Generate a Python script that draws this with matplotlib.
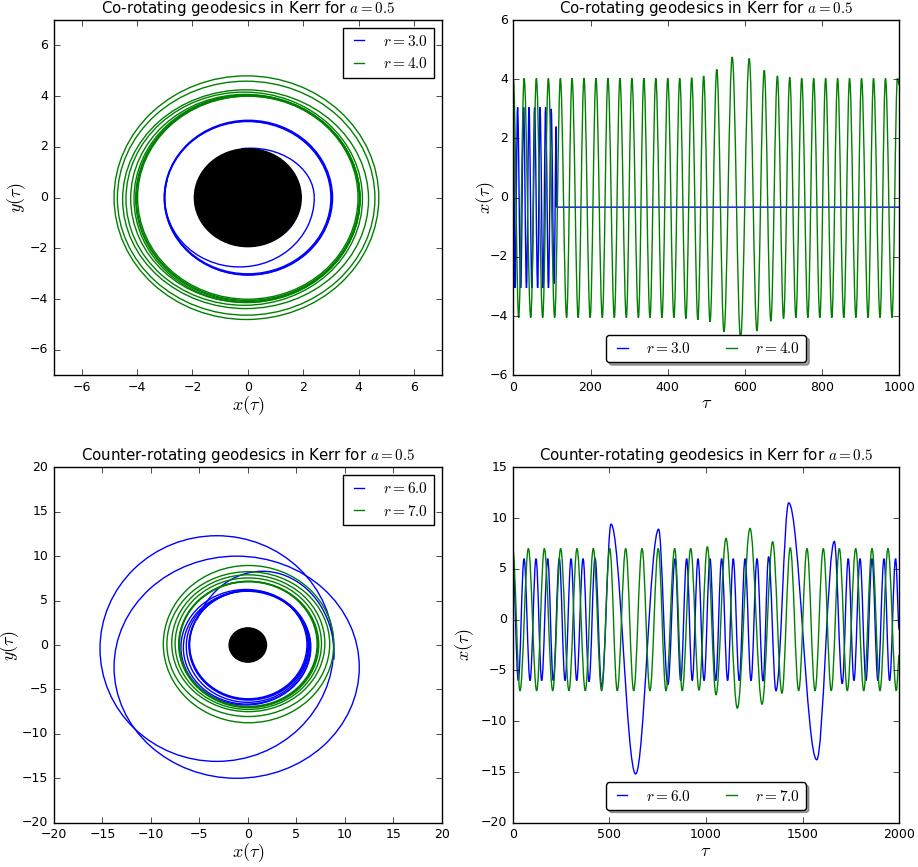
import matplotlib
matplotlib.use('Agg')
import matplotlib.pyplot as plt
from matplotlib.patches import Circle, Ellipse, Arc, PathPatch
from matplotlib.path import Path
from matplotlib.lines import Line2D

# event horizon disk radius, same in both orbit plots
horizon_r = 1.93

# ---- co-rotating, r = 3.0 : orbit loops (centre x, centre y, half width, half height)
co3_cx = [0.0, 0.01, 0.02]
co3_cy = [0.0, -0.01, 0.0]
co3_rx = [3.0, 3.02, 3.04]
co3_ry = [3.0, 3.03, 3.05]
# the last turn before the plunge (two arcs)
co3_arc_cx = [-0.3, 0.1]
co3_arc_cy = [0.0, 0.0]
co3_arc_rx = [2.7, 2.3]
co3_arc_ry = [2.73, 1.95]
co3_arc_t1 = [165, 0]
co3_arc_t2 = [360, 100]

# ---- co-rotating, r = 4.0 : orbit loops
co4_cx = [0.0, 0.0, 0.0, -0.03, -0.09, -0.13, -0.08, -0.06, -0.05]
co4_cy = [0.0, -0.02, -0.03, -0.04, -0.03, -0.04, -0.06, -0.02, 0.0]
co4_rx = [3.98, 4.02, 4.05, 4.08, 4.14, 4.27, 4.44, 4.65, 4.78]
co4_ry = [4.0, 4.03, 4.06, 4.09, 4.1, 4.2, 4.31, 4.61, 4.8]

# ---- co-rotating x(tau), turning points
co3_tau = [0, 4.4, 11, 19, 26.7, 34, 40.6, 48, 55, 63, 69, 77, 83.6, 91, 98,
           105.6, 111, 112, 1000]
co3_x = [3.0, -3.05, 3.05, -3.05, 3.05, -3.05, 3.05, -3.05, 3.05, -3.05, 3.05,
         -3.05, 3.05, -3.05, 3.0, -2.9, 2.4, -0.32, -0.32]

co4_tau = [0, 13.8, 27.9, 45, 59.6, 76, 90.7, 107, 121.8, 138, 152, 168, 183,
           199, 214, 230.5, 245, 261.6, 276, 292.7, 307, 324, 338, 354, 369,
           385, 400, 416, 431, 447, 462, 478, 493, 509.5, 527, 545.6, 567,
           588.6, 611, 631, 650, 667, 684, 700, 716, 732, 747, 763, 778, 794,
           809, 825, 840, 856, 871, 887.5, 902, 919, 933, 950, 964, 981, 995,
           1000]
co4_x = [4.0, -4.05, 4.03, -4.05, 4.03, -4.05, 4.03, -4.05, 4.03, -4.05, 4.03,
         -4.05, 4.03, -4.05, 4.03, -4.05, 4.03, -4.05, 4.03, -4.05, 4.03,
         -4.05, 4.03, -4.05, 4.03, -4.05, 4.03, -4.05, 4.03, -4.08, 4.05,
         -4.12, 4.11, -4.19, 4.33, -4.53, 4.75, -4.75, 4.7, -4.5, 4.3, -4.17,
         4.11, -4.08, 4.06, -4.05, 4.03, -4.05, 4.03, -4.05, 4.03, -4.05, 4.03,
         -4.05, 4.03, -4.05, 4.03, -4.05, 4.03, -4.05, 4.03, -4.05, 4.03, 3.8]

# ---- counter-rotating, r = 6.0 : orbit loops
cr6_cx = [0.05, 0.08, 0.1, 0.0, -0.1, -0.2, -3.2, -1.15]
cr6_cy = [0.05, 0.0, -0.05, -0.15, -0.3, -0.25, -0.4, -2.5]
cr6_rx = [6.05, 6.12, 6.18, 6.35, 6.55, 6.7, 12.05, 12.65]
cr6_ry = [6.1, 6.12, 6.15, 6.3, 6.35, 6.5, 12.7, 12.5]
# way out of the ring before the first excursion
cr6_arc_cx = [1.5]
cr6_arc_cy = [-1.0]
cr6_arc_rx = [7.4]
cr6_arc_ry = [9.3]
cr6_arc_t1 = [-5]
cr6_arc_t2 = [150]

# ---- counter-rotating, r = 7.0 : orbit loops
cr7_cx = [0.05, 0.05, 0.1, 0.05, 0.05, 0.05, 0.08]
cr7_cy = [0.1, 0.1, 0.05, 0.15, 0.2, 0.1, 0.1]
cr7_rx = [7.1, 7.17, 7.22, 7.55, 7.9, 8.4, 8.8]
cr7_ry = [7.02, 7.08, 7.1, 7.4, 7.7, 8.15, 8.85]

# ---- counter-rotating x(tau), turning points
cr6_tau = [0, 29, 58.6, 89.7, 120.7, 150, 181, 210, 241, 270.7, 302, 331,
           364, 395, 426, 460, 508.6, 636, 755, 803, 840, 869, 900, 929,
           958.6, 990, 1020.7, 1050, 1081, 1112, 1141, 1172, 1202, 1233, 1264,
           1295, 1324, 1362, 1428, 1573, 1664, 1705, 1736, 1765.5, 1797,
           1827.6, 1859, 1889.6, 1921, 1950, 1981, 2000]
cr6_x = [6.0, -6.0, 6.0, -6.0, 6.0, -6.0, 6.0, -6.0, 6.0, -6.0, 6.0, -6.0,
         6.0, -6.1, 6.05, -6.6, 9.4, -15.2, 8.9, -6.4, 6.0, -6.0, 6.0, -6.0,
         6.0, -6.0, 6.0, -6.0, 6.0, -6.0, 6.0, -6.0, 6.0, -6.0, 6.0, -6.05,
         6.2, -7.0, 11.5, -13.8, 7.7, -6.3, 6.0, -6.0, 6.0, -6.0, 6.0, -6.0,
         6.0, -6.0, 6.0, -1.0]

cr7_tau = [0, 37.8, 81, 124, 163.6, 207, 248, 291, 332.6, 375.6, 417, 460,
           502, 541, 584.6, 626, 669, 710, 753, 793, 838, 877, 921, 964, 1007,
           1052, 1103.5, 1162, 1228, 1290, 1345, 1393, 1436, 1479.6, 1522.6,
           1564, 1607, 1648, 1690, 1731, 1774.6, 1816, 1859, 1900, 1941.6,
           1984.6, 2000]
cr7_x = [7.0, -7.0, 7.0, -7.0, 7.0, -7.0, 7.0, -7.0, 7.0, -7.0, 7.0, -7.0,
         7.0, -7.0, 7.0, -7.0, 7.0, -7.0, 7.0, -7.0, 7.0, -7.0, 7.0, -6.95,
         7.18, -7.4, 8.0, -8.72, 8.98, -8.33, 7.67, -7.25, 7.08, -7.0, 7.0,
         -7.0, 7.0, -7.0, 7.0, -7.0, 7.0, -7.0, 7.0, -7.0, 7.0, -7.0, -3.5]

plt.style.use('classic')
plt.rcParams['figure.facecolor'] = 'white'
plt.rcParams['savefig.facecolor'] = 'white'

TITLE_FS = 10.8
LABEL_FS = 13
TICK_FS = 9
LEGEND_FS = 11
LEG_KW = dict(fontsize=LEGEND_FS, handlelength=1.3, handletextpad=0.9)


def draw_loops(ax, cx, cy, rx, ry, color):
    for i in range(len(cx)):
        ax.add_patch(Ellipse((cx[i], cy[i]), 2 * rx[i], 2 * ry[i],
                             fill=False, edgecolor=color, linewidth=1.0))


def draw_arcs(ax, cx, cy, rx, ry, t1, t2, color):
    for i in range(len(cx)):
        ax.add_patch(Arc((cx[i], cy[i]), 2 * rx[i], 2 * ry[i],
                         theta1=t1[i], theta2=t2[i], edgecolor=color,
                         linewidth=1.0))


def draw_wave(ax, tau, x, color):
    # smooth curve through the turning points (flat tangent at each one)
    verts = [(tau[0], x[0])]
    codes = [Path.MOVETO]
    for i in range(1, len(tau)):
        h = 0.3642 * (tau[i] - tau[i - 1])
        verts += [(tau[i - 1] + h, x[i - 1]), (tau[i] - h, x[i]), (tau[i], x[i])]
        codes += [Path.CURVE4] * 3
    ax.add_patch(PathPatch(Path(verts, codes), fill=False, edgecolor=color,
                           linewidth=1.0))


def style_axes(ax, title, xlabel, ylabel, ylabel_x):
    ax.set_title(title, fontsize=TITLE_FS)
    ax.set_xlabel(xlabel, fontsize=LABEL_FS)
    ax.set_ylabel(ylabel, fontsize=LABEL_FS)
    ax.xaxis.set_label_coords(0.5, -0.053)
    ax.yaxis.set_label_coords(ylabel_x, 0.5)
    ax.tick_params(axis='both', labelsize=TICK_FS)


def proxies():
    return [Line2D([], [], color='b'), Line2D([], [], color='g')]


fig = plt.figure(figsize=(9.18, 8.67), dpi=100)

# top left: co-rotating orbits
ax1 = fig.add_axes([0.0588, 0.5671, 0.4223, 0.4098])
draw_loops(ax1, co3_cx, co3_cy, co3_rx, co3_ry, 'b')
draw_arcs(ax1, co3_arc_cx, co3_arc_cy, co3_arc_rx, co3_arc_ry,
          co3_arc_t1, co3_arc_t2, 'b')
draw_loops(ax1, co4_cx, co4_cy, co4_rx, co4_ry, 'g')
ax1.add_patch(Circle((0, 0), horizon_r, color='k', zorder=3))
ax1.set_xlim(-7, 7)
ax1.set_ylim(-7, 7)
style_axes(ax1, 'Co-rotating geodesics in Kerr for $a=0.5$',
           r'$x(\tau)$', r'$y(\tau)$', -0.068)
ax1.legend(proxies(), ['$r=3.0$', '$r=4.0$'], loc='upper right', **LEG_KW)

# top right: co-rotating x(tau)
ax2 = fig.add_axes([0.5592, 0.5671, 0.4205, 0.4098])
draw_wave(ax2, co3_tau, co3_x, 'b')
draw_wave(ax2, co4_tau, co4_x, 'g')
ax2.set_xlim(0, 1000)
ax2.set_ylim(-6, 6)
style_axes(ax2, 'Co-rotating geodesics in Kerr for $a=0.5$',
           r'$\tau$', r'$x(\tau)$', -0.042)
ax2.legend(proxies(), ['$r=3.0$', '$r=4.0$'], loc='lower center', ncol=2,
           fancybox=True, shadow=True, columnspacing=2.0, borderaxespad=0.85,
           **LEG_KW)

# bottom left: counter-rotating orbits
ax3 = fig.add_axes([0.0588, 0.0511, 0.4223, 0.4099])
draw_loops(ax3, cr6_cx, cr6_cy, cr6_rx, cr6_ry, 'b')
draw_arcs(ax3, cr6_arc_cx, cr6_arc_cy, cr6_arc_rx, cr6_arc_ry,
          cr6_arc_t1, cr6_arc_t2, 'b')
draw_loops(ax3, cr7_cx, cr7_cy, cr7_rx, cr7_ry, 'g')
ax3.add_patch(Circle((0, 0), horizon_r, color='k', zorder=3))
ax3.set_xlim(-20, 20)
ax3.set_ylim(-20, 20)
style_axes(ax3, 'Counter-rotating geodesics in Kerr for $a=0.5$',
           r'$x(\tau)$', r'$y(\tau)$', -0.085)
ax3.legend(proxies(), ['$r=6.0$', '$r=7.0$'], loc='upper right', **LEG_KW)

# bottom right: counter-rotating x(tau)
ax4 = fig.add_axes([0.5585, 0.0511, 0.4211, 0.4099])
draw_wave(ax4, cr6_tau, cr6_x, 'b')
draw_wave(ax4, cr7_tau, cr7_x, 'g')
ax4.set_xlim(0, 2000)
ax4.set_ylim(-20, 15)
style_axes(ax4, 'Counter-rotating geodesics in Kerr for $a=0.5$',
           r'$\tau$', r'$x(\tau)$', -0.095)
ax4.legend(proxies(), ['$r=6.0$', '$r=7.0$'], loc='lower center', ncol=2,
           fancybox=True, shadow=True, columnspacing=2.0, borderaxespad=0.85,
           **LEG_KW)

plt.savefig('out.png', dpi=100)
